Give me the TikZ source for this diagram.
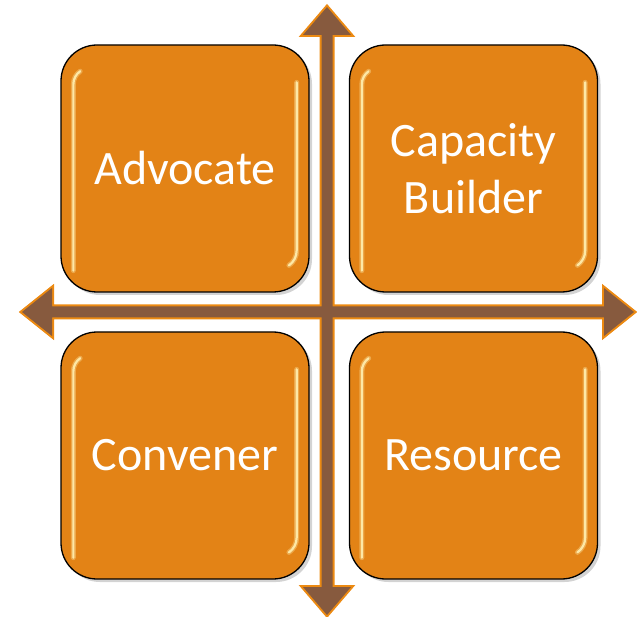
\documentclass[tikz,border=0pt]{standalone}
\usepackage{fontspec}
\setmainfont{Carlito}
\usetikzlibrary{shadows,calc}
\definecolor{boxorange}{HTML}{E38316}
\definecolor{arrowbrown}{HTML}{875A3E}
\definecolor{edgeorange}{HTML}{EC8A12}
\definecolor{gloss}{HTML}{FFEFB0}
\tikzset{
  quad/.style={rounded corners=36pt, draw=black, line width=1.3pt, fill=boxorange,
    text=white, font=\fontsize{48}{57}\selectfont, align=center,
    minimum width=248pt, minimum height=247pt, inner sep=0pt,
    drop shadow={shadow xshift=3pt, shadow yshift=-3pt, opacity=0.35}},
  glosswide/.style={draw=gloss, line width=5pt, opacity=0.35, line cap=round},
  glossline/.style={draw=gloss, line width=2.2pt, opacity=0.9, line cap=round},
  arrowedge/.style={draw=edgeorange, line width=4pt, line join=miter},
  arrowfill/.style={fill=arrowbrown}
}
\begin{document}
\begin{tikzpicture}[x=1pt,y=1pt]
\useasboundingbox (0,0) rectangle (637,-617);
\node[quad] (adv) at (185,-168.5) {Advocate};
\node[quad] (cap) at (473.5,-168.5) {Capacity\\Builder};
\node[quad] (con) at (185,-455.5) {Convener};
\node[quad] (res) at (473.5,-455.5) {Resource};
\foreach \n in {adv,cap,con,res}{
  \foreach \s in {glosswide,glossline}{
    \draw[\s] ($(\n.south west)+(13,22)$) -- ($(\n.north west)+(13,-40)$) arc (180:125:16);
    \draw[\s] ($(\n.north east)+(-13,-38)$) -- ($(\n.south east)+(-13,42)$) arc (0:-55:18);
  }
}
\path[arrowedge] (327,-7) -- (351,-35) -- (332.5,-35) -- (332.5,-587) -- (351,-587) -- (327,-615) -- (303,-587) -- (321.5,-587) -- (321.5,-35) -- (303,-35) -- cycle;
\path[arrowedge] (22,-312) -- (52,-288) -- (52,-306.5) -- (604,-306.5) -- (604,-288) -- (634,-312) -- (604,-336) -- (604,-317.5) -- (52,-317.5) -- (52,-336) -- cycle;
\path[arrowfill] (327,-7) -- (351,-35) -- (332.5,-35) -- (332.5,-587) -- (351,-587) -- (327,-615) -- (303,-587) -- (321.5,-587) -- (321.5,-35) -- (303,-35) -- cycle;
\path[arrowfill] (22,-312) -- (52,-288) -- (52,-306.5) -- (604,-306.5) -- (604,-288) -- (634,-312) -- (604,-336) -- (604,-317.5) -- (52,-317.5) -- (52,-336) -- cycle;
\end{tikzpicture}
\end{document}
